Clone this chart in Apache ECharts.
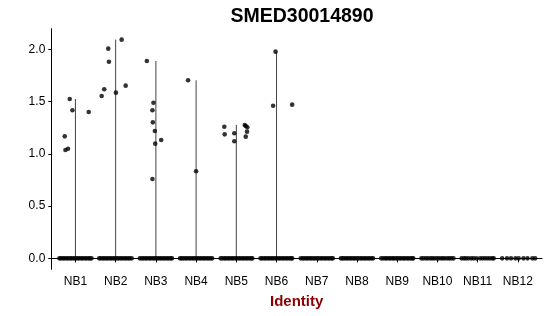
<!DOCTYPE html>
<html>
<head>
<meta charset="utf-8">
<script src="https://cdn.jsdelivr.net/npm/echarts@6/dist/echarts.min.js"></script>
<style>html,body{margin:0;padding:0;background:#fff}#c{width:550px;height:316px}</style>
</head>
<body>
<div id="c"></div>
<script>
const categories = ['NB1','NB2','NB3','NB4','NB5','NB6','NB7','NB8','NB9','NB10','NB11','NB12'];
const yTicks = [0, 0.5, 1.0, 1.5, 2.0];
const yTickLabels = ['0.0','0.5','1.0','1.5','2.0'];

// non-zero expression values per group
const highValues = [
  [1.167, 1.036, 1.049, 1.524, 1.416, 1.400],
  [1.553, 1.617, 2.006, 1.881, 1.585, 2.092, 1.652],
  [1.888, 1.489, 1.416, 1.301, 1.218, 1.097, 1.132, 0.759],
  [1.703, 0.833],
  [1.259, 1.186, 1.196, 1.120, 1.276, 1.266, 1.254, 1.212, 1.164],
  [1.977, 1.460, 1.470],
  [], [], [], [], [], []
];
// horizontal jitter of those points (category units)
const highJitter = [
  [-0.266, -0.249, -0.184, -0.142, -0.075, 0.331],
  [-0.348, -0.284, -0.184, -0.167, 0.007, 0.149, 0.249],
  [-0.224, -0.060, -0.085, -0.075, -0.025, -0.017, 0.132, -0.085],
  [-0.199, 0.000],
  [-0.299, -0.289, -0.050, -0.050, 0.209, 0.234, 0.274, 0.266, 0.234],
  [-0.025, -0.085, 0.388],
  [], [], [], [], [], []
];
// jitter of the zero-valued cells per group
const zeroJitter = [
  [-0.40,-0.36,-0.31,-0.27,-0.22,-0.18,-0.13,-0.09,-0.04,0.00,0.05,0.09,0.14,0.18,0.23,0.27,0.32,0.36,0.40],
  [-0.41,-0.37,-0.32,-0.28,-0.23,-0.19,-0.14,-0.10,-0.05,-0.01,0.04,0.08,0.13,0.17,0.22,0.26,0.31,0.35,0.40],
  [-0.40,-0.35,-0.31,-0.26,-0.22,-0.17,-0.13,-0.08,-0.04,0.01,0.05,0.10,0.14,0.19,0.23,0.28,0.32,0.37,0.40],
  [-0.40,-0.36,-0.32,-0.27,-0.23,-0.18,-0.14,-0.09,-0.05,0.00,0.04,0.09,0.13,0.18,0.22,0.27,0.31,0.36,0.40],
  [-0.39,-0.35,-0.30,-0.26,-0.21,-0.17,-0.12,-0.08,-0.03,0.01,0.06,0.10,0.15,0.19,0.24,0.28,0.33,0.37,0.40],
  [-0.40,-0.36,-0.31,-0.27,-0.22,-0.18,-0.13,-0.09,-0.04,0.00,0.05,0.09,0.14,0.18,0.23,0.27,0.32,0.36,0.39],
  [-0.40,-0.35,-0.31,-0.26,-0.22,-0.17,-0.13,-0.08,-0.04,0.01,0.05,0.10,0.14,0.19,0.23,0.28,0.32,0.37,0.40],
  [-0.40,-0.36,-0.32,-0.27,-0.23,-0.18,-0.14,-0.09,-0.05,0.00,0.04,0.09,0.13,0.18,0.22,0.27,0.31,0.36,0.40],
  [-0.40,-0.35,-0.30,-0.26,-0.21,-0.17,-0.12,-0.08,-0.03,0.01,0.06,0.10,0.15,0.19,0.24,0.28,0.33,0.37,0.40],
  [-0.40,-0.35,-0.29,-0.24,-0.18,-0.13,-0.08,-0.02,0.03,0.09,0.14,0.19,0.25,0.30,0.35,0.40],
  [-0.40,-0.34,-0.29,-0.23,-0.16,-0.10,-0.03,0.06,0.12,0.18,0.24,0.30,0.36,0.40],
  [-0.39,-0.27,-0.17,-0.06,0.02,0.14,0.24,0.36,0.43]
];

const pointData = [];
categories.forEach((c, i) => {
  zeroJitter[i].forEach(j => pointData.push([i + 1 + j, 0]));
  highValues[i].forEach((v, k) => pointData.push([i + 1 + highJitter[i][k], v]));
});
const lineData = categories.map((c, i) => [i + 1, highValues[i].length ? Math.max(...highValues[i]) : 0]);

const allMax = Math.max(...lineData.map(d => d[1]));
const pad = allMax * 0.05;

const chart = echarts.init(document.getElementById('c'), null, {renderer: 'canvas'});
chart.setOption({
  animation: false,
  backgroundColor: '#fff',
  textStyle: {fontFamily: 'Liberation Sans, Arial, sans-serif'},
  title: {
    text: 'SMED30014890', left: 297, top: 2, textAlign: 'center',
    textStyle: {fontSize: 19.5, fontWeight: 'bold', color: '#000', fontFamily: 'Liberation Sans, Arial, sans-serif'}
  },
  grid: {left: 51.3, right: 8, top: 28.7, bottom: 46.7, containLabel: false, outerBoundsMode: 'none'},
  xAxis: {
    type: 'value', min: 0.4, max: 12.6,
    name: 'Identity', nameLocation: 'middle', nameGap: 25,
    nameTextStyle: {fontSize: 15, fontWeight: 'bold', color: '#8B0000'},
    axisLine: {show: true, lineStyle: {color: '#000', width: 1}},
    axisTick: {show: true, length: 4, lineStyle: {color: '#000'}, customValues: categories.map((c, i) => i + 1)},
    axisLabel: {
      customValues: categories.map((c, i) => i + 1),
      formatter: v => categories[Math.round(v) - 1] || '',
      fontSize: 12, color: '#000', margin: 6
    },
    splitLine: {show: false}
  },
  yAxis: {
    type: 'value', min: -pad, max: allMax + pad,
    axisLine: {show: true, lineStyle: {color: '#000', width: 1}},
    axisTick: {show: true, length: 3, lineStyle: {color: '#000'}, customValues: yTicks},
    axisLabel: {
      customValues: yTicks,
      formatter: v => yTickLabels[yTicks.findIndex(t => Math.abs(t - v) < 1e-6)] || '',
      fontSize: 12, color: '#000', margin: 6
    },
    splitLine: {show: false}
  },
  series: [
    {
      type: 'custom',
      data: lineData,
      renderItem: (params, api) => {
        const p0 = api.coord([api.value(0), 0]);
        const p1 = api.coord([api.value(0), api.value(1)]);
        return {type: 'line', shape: {x1: p0[0], y1: p0[1], x2: p1[0], y2: p1[1]},
                style: {stroke: '#444', lineWidth: 1}};
      },
      z: 1
    },
    {
      type: 'scatter', data: pointData, symbolSize: 4.6,
      itemStyle: {color: '#000'}, z: 2
    }
  ]
});
</script>
</body>
</html>
